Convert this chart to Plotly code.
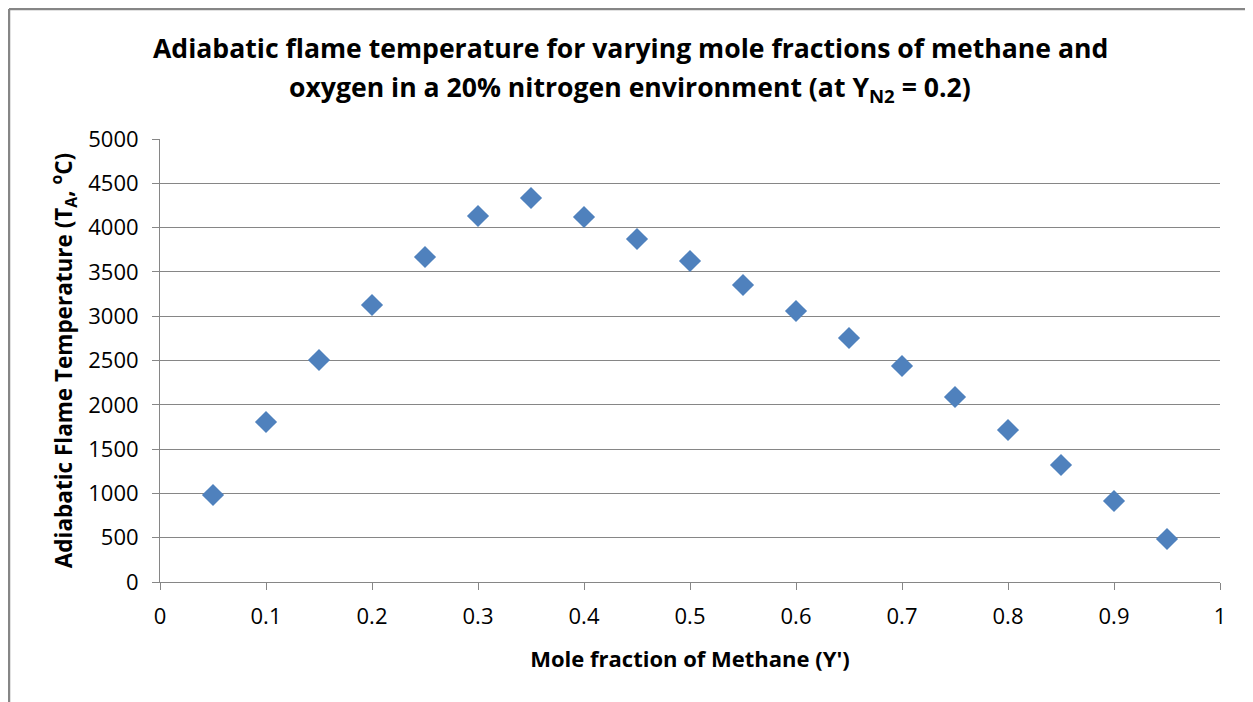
import plotly.graph_objects as go

# mole fraction of methane and adiabatic flame temperature
moleFraction = [0.05, 0.1, 0.15, 0.2, 0.25, 0.3, 0.35, 0.4, 0.45, 0.5,
                0.55, 0.6, 0.65, 0.7, 0.75, 0.8, 0.85, 0.9, 0.95]
flameTemp = [982, 1806, 2506, 3126, 3668, 4131, 4334, 4120, 3871, 3623,
             3352, 3059, 2754, 2438, 2088, 1716, 1321, 914, 485]

xTicks = [0, 0.1, 0.2, 0.3, 0.4, 0.5, 0.6, 0.7, 0.8, 0.9, 1]
xTickText = ['0', '0.1', '0.2', '0.3', '0.4', '0.5', '0.6', '0.7', '0.8', '0.9', '1']
yTicks = [0, 500, 1000, 1500, 2000, 2500, 3000, 3500, 4000, 4500, 5000]

titleLines = ['Adiabatic flame temperature for varying mole fractions of methane and',
              'oxygen in a 20% nitrogen environment (at Y<sub>N2</sub> = 0.2)']

font = 'Open Sans, sans-serif'
gray = '#868686'

fig = go.Figure()
fig.add_trace(go.Scatter(
    x=moleFraction, y=flameTemp, mode='markers',
    marker=dict(symbol='diamond', size=17, color='#4F81BD'),
    showlegend=False,
))

# page body has an 8px margin, so the figure is a bit smaller than the window
fig.update_layout(
    width=1245, height=694,
    paper_bgcolor='white', plot_bgcolor='white',
    margin=dict(l=152, r=33, t=131, b=120),
)

# two-line chart title, placed line by line to get the wider line spacing
for line, ypos in zip(titleLines, [1.2054, 1.1151]):
    fig.add_annotation(
        text=line, xref='paper', yref='paper', x=0.4434, y=ypos,
        xanchor='center', yanchor='middle', showarrow=False,
        font=dict(family=font, size=26.6, color='black', weight='bold'),
    )

fig.update_xaxes(
    range=[0, 1], tickvals=xTicks, ticktext=xTickText,
    showgrid=False, zeroline=False,
    showline=True, linecolor=gray, linewidth=1,
    ticks='outside', ticklen=7, tickcolor=gray, ticklabelstandoff=8,
    tickfont=dict(family=font, size=22, color='black'),
    title=dict(text="Mole fraction of Methane (Y')", standoff=22,
               font=dict(family=font, size=22, color='black', weight='bold')),
)
fig.update_yaxes(
    range=[0, 5000], tickvals=yTicks,
    showgrid=True, gridcolor=gray, gridwidth=1, zeroline=False,
    showline=True, linecolor=gray, linewidth=1,
    ticks='outside', ticklen=7, tickcolor=gray, ticklabelstandoff=9,
    tickfont=dict(family=font, size=22, color='black'),
    title=dict(text='Adiabatic Flame Temperature (T<sub>A</sub>, <sup>o</sup>C)', standoff=9,
               font=dict(family=font, size=22.5, color='black', weight='bold')),
)

# outer chart border (left and top edges visible in the reference)
fig.add_shape(type='line', xref='paper', yref='paper',
              x0=-0.14245, x1=-0.14245, y0=-0.5, y1=1.2935,
              line=dict(color=gray, width=2.5))
fig.add_shape(type='line', xref='paper', yref='paper',
              x0=-0.14245, x1=1.2, y0=1.2935, y1=1.2935,
              line=dict(color=gray, width=2.5))

fig.write_html("out.html")
